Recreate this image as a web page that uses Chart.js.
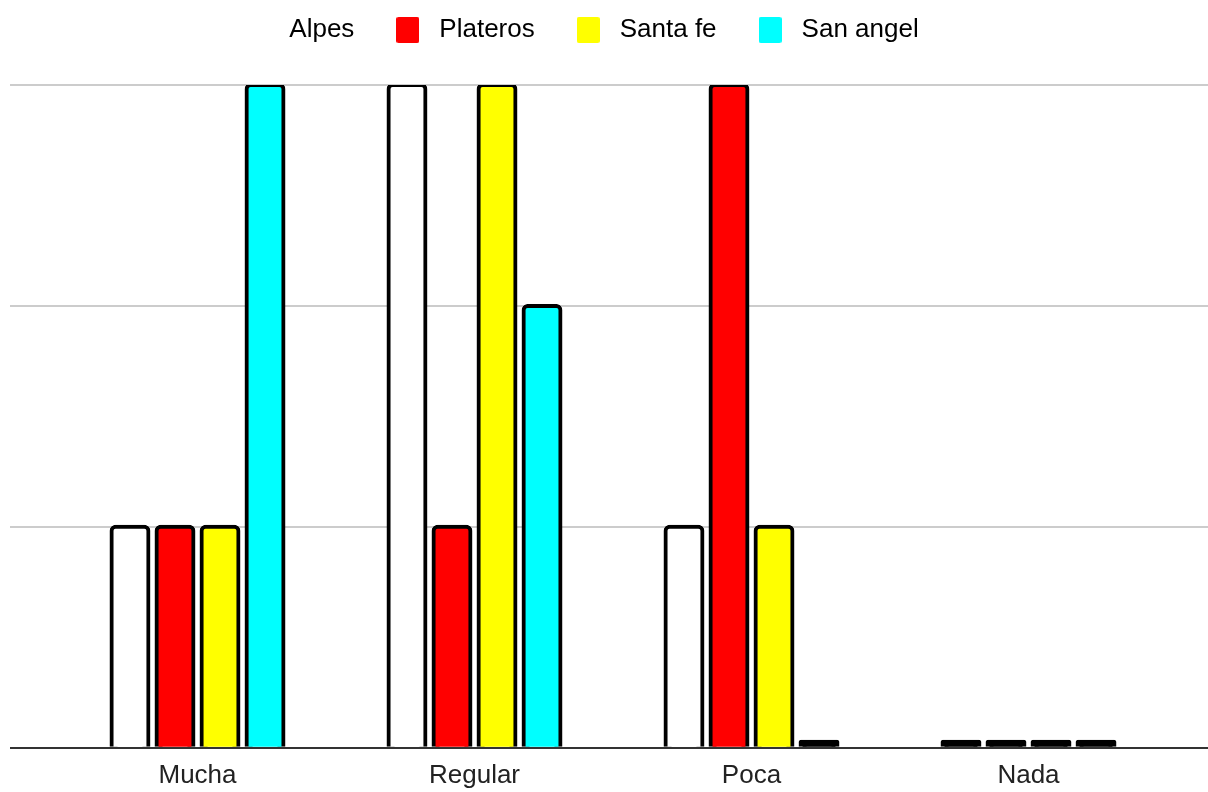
<!DOCTYPE html>
<html>
<head>
<meta charset="utf-8">
<script src="https://cdn.jsdelivr.net/npm/chart.js@4/dist/chart.umd.min.js"></script>
<style>
    html, body { margin: 0; padding: 0; background: #fff; }
    #wrap { width: 1208px; height: 792px; }
</style>
</head>
<body>
<div id="wrap"><canvas id="myChart"></canvas></div>
<script>
const categories = ['Mucha', 'Regular', 'Poca', 'Nada'];

const seriesNames = ['Alpes', 'Plateros', 'Santa fe', 'San angel'];
const seriesColors = ['#ffffff', '#ff0000', '#ffff00', '#00ffff'];

const alpes = [1, 3, 1, 0];
const plateros = [1, 1, 3, 0];
const santaFe = [1, 3, 1, 0];
const sanAngel = [3, 2, 0, 0];

const yTicks = [0, 1, 2, 3];

const values = [alpes, plateros, santaFe, sanAngel];

const gridColor = (ctx) => ctx.tick && ctx.tick.value === 0 ? '#333333' : '#cccccc';

// legend swatch: small rounded box, no border
function swatch(color) {
    const c = document.createElement('canvas');
    c.width = 23;
    c.height = 26;
    const g = c.getContext('2d');
    g.fillStyle = color;
    g.beginPath();
    g.roundRect(0, 0, 23, 26, 2);
    g.fill();
    return c;
}

const data = {
    labels: categories,
    datasets: seriesNames.map((name, i) => ({
        label: name,
        data: values[i],
        backgroundColor: (ctx) => ctx.raw === 0 ? '#000000' : seriesColors[i],
        borderColor: '#000000',
        borderWidth: 4,
        borderRadius: 6,
        inflateAmount: 2,   // stroke sits half outside the bar, like the original
        minBarLength: 6,
        clip: 0,
        categoryPercentage: 0.65,
        barPercentage: 0.82,
        yAxisID: 'y'
    }))
};

// extra room under the legend, and nudge it left like the original
const legendMargin = {
    id: 'legendMargin',
    beforeInit(chart) {
        const fitValue = chart.legend.fit;
        chart.legend.fit = function fit() {
            fitValue.bind(chart.legend)();
            this.height += 32;
            this.lineWidths[0] += 60;
        };
    }
};

Chart.defaults.font.family = '"Liberation Sans", Arial, sans-serif';
Chart.defaults.color = '#222222';

const config = {
    type: 'bar',
    data,
    plugins: [legendMargin],
    options: {
        responsive: true,
        maintainAspectRatio: false,
        animation: false,
        layout: {
            padding: { left: 10, right: 0, top: -18, bottom: -11 }
        },
        plugins: {
            tooltip: { enabled: false },
            legend: {
                position: 'top',
                labels: {
                    font: { size: 26 },
                    usePointStyle: true,
                    pointStyleWidth: 37,
                    boxHeight: 26,
                    padding: 35,
                    generateLabels: (chart) => {
                        return seriesNames.map((name, i) => ({
                            text: name,
                            fillStyle: seriesColors[i],
                            strokeStyle: 'rgba(0,0,0,0)',
                            lineWidth: 0,
                            pointStyle: swatch(seriesColors[i]),
                            hidden: false,
                            datasetIndex: i
                        }));
                    }
                }
            }
        },
        scales: {
            x: {
                grid: { display: false, drawTicks: false },
                border: { display: false },
                ticks: { font: { size: 26 }, padding: 12 }
            },
            y: {
                position: 'left',
                min: 0,
                max: 3,
                afterBuildTicks: (axis) => { axis.ticks = yTicks.map(v => ({ value: v })); },
                border: { display: false },
                grid: {
                    color: gridColor,
                    lineWidth: 2,
                    tickLength: 49
                },
                ticks: { display: false }
            },
            y2: {
                position: 'right',
                min: 0,
                max: 3,
                afterBuildTicks: (axis) => { axis.ticks = yTicks.map(v => ({ value: v })); },
                border: { display: false },
                grid: {
                    color: gridColor,
                    lineWidth: 2,
                    tickLength: 41,
                    drawOnChartArea: false
                },
                ticks: { display: false }
            }
        }
    }
};

var myChart = new Chart(
    document.getElementById('myChart'),
    config
);
</script>
</body>
</html>
